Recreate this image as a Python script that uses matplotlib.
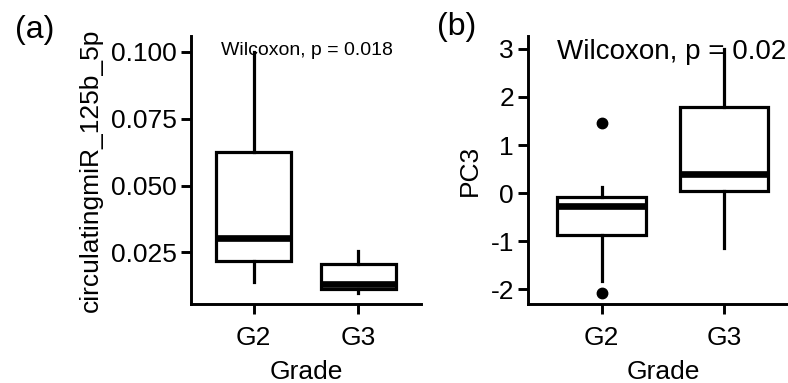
import numpy as np
import matplotlib
matplotlib.use("Agg")
import matplotlib.pyplot as plt

plt.rcParams['font.family'] = ['Liberation Sans', 'DejaVu Sans']

# box statistics
grades = ['G2', 'G3']

# (a) circulatingmiR_125b_5p
mir_whislo = [0.0140, 0.0099]
mir_q1 = [0.0219, 0.0114]
mir_med = [0.0302, 0.0131]
mir_q3 = [0.0624, 0.0206]
mir_whishi = [0.1000, 0.0256]
mir_fliers = [[], []]

# (b) PC3
pc3_whislo = [-1.84, -1.15]
pc3_q1 = [-0.875, 0.05]
pc3_med = [-0.26, 0.40]
pc3_q3 = [-0.083, 1.80]
pc3_whishi = [0.125, 3.00]
pc3_fliers = [[1.45, -2.08], []]

FS = 19


def make_stats(lo, q1, med, q3, hi, fl):
    out = []
    for i in range(len(lo)):
        out.append(dict(whislo=lo[i], q1=q1[i], med=med[i], q3=q3[i],
                        whishi=hi[i], fliers=fl[i]))
    return out


def draw_panel(ax, stats, ylim, yticks, yticklabels, ylabel):
    ax.bxp(stats, positions=[1, 2], widths=0.72, showcaps=False, patch_artist=True,
           boxprops=dict(facecolor='white', edgecolor='black', linewidth=2.3),
           medianprops=dict(color='black', linewidth=4.8, solid_capstyle='butt'),
           whiskerprops=dict(color='black', linewidth=2.3),
           flierprops=dict(marker='o', markerfacecolor='black', markeredgecolor='black',
                           markersize=7.5))
    ax.set_xlim(0.4, 2.6)
    ax.set_ylim(*ylim)
    ax.set_xticks([1, 2])
    ax.set_xticklabels(grades)
    ax.set_yticks(yticks)
    ax.set_yticklabels(yticklabels)
    for s in ['top', 'right']:
        ax.spines[s].set_visible(False)
    for s in ['left', 'bottom']:
        ax.spines[s].set_linewidth(2.1)
    ax.tick_params(direction='out', length=7, width=2.1, labelsize=FS, pad=3)
    ax.tick_params(axis='x', pad=9)
    ax.set_xlabel('Grade', fontsize=FS, labelpad=7)
    ax.set_ylabel(ylabel, fontsize=FS, labelpad=6)


fig = plt.figure(figsize=(7.88, 3.83), dpi=100)

ax1 = fig.add_axes([0.2424, 0.2063, 0.2919, 0.6997])
draw_panel(ax1, make_stats(mir_whislo, mir_q1, mir_med, mir_q3, mir_whishi, mir_fliers),
           (0.0057, 0.1059), [0.025, 0.050, 0.075, 0.100],
           ['0.025', '0.050', '0.075', '0.100'], 'circulatingmiR_125b_5p')
ax1.text(0.686, 0.1003, 'Wilcoxon, p = 0.018', fontsize=14, ha='left', va='center')

ax2 = fig.add_axes([0.670, 0.2063, 0.3426, 0.6997])
draw_panel(ax2, make_stats(pc3_whislo, pc3_q1, pc3_med, pc3_q3, pc3_whishi, pc3_fliers),
           (-2.31, 3.27), [-2, -1, 0, 1, 2, 3],
           ['-2', '-1', '0', '1', '2', '3'], 'PC3')
ax2.text(0.634, 2.94, 'Wilcoxon, p = 0.02', fontsize=20, ha='left', va='center')

fig.text(15 / 788, 1 - 30 / 383, '(a)', fontsize=23, ha='left', va='center')
fig.text(437 / 788, 1 - 27 / 383, '(b)', fontsize=23, ha='left', va='center')

fig.savefig('out.png', dpi=100)
